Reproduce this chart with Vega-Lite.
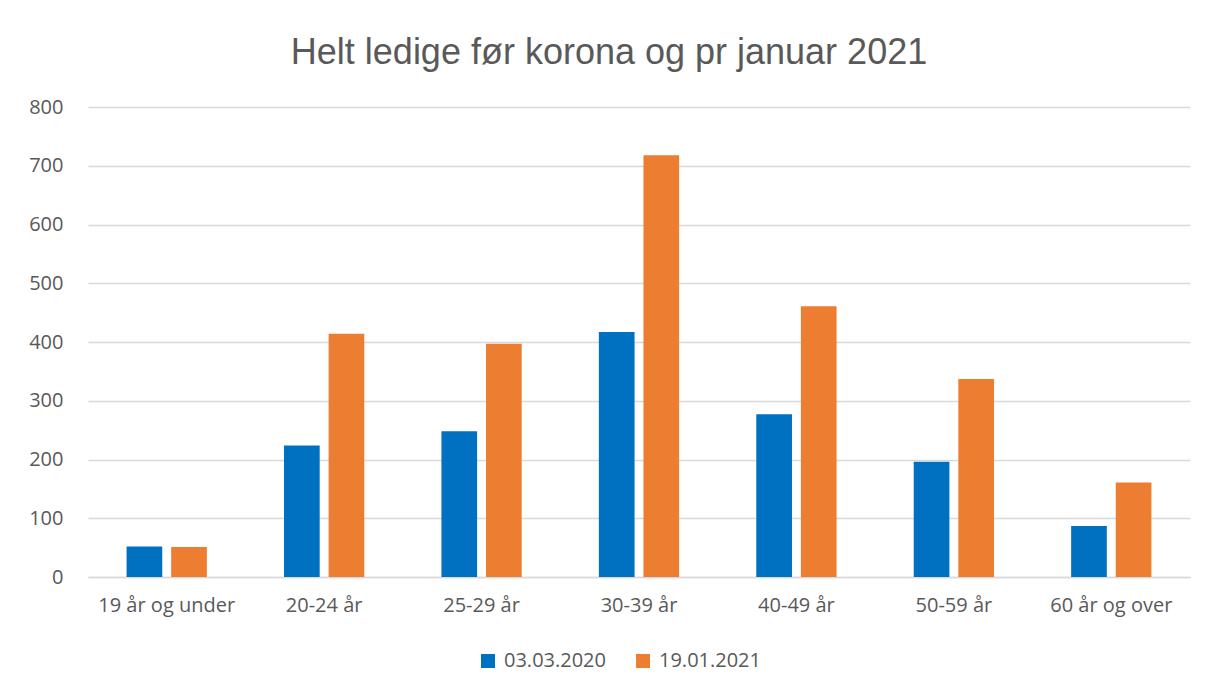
{
  "$schema": "https://vega.github.io/schema/vega-lite/v6.json",
  "width": 1102,
  "height": 470,
  "autosize": {"type": "none"},
  "padding": {"left": 88, "top": 107, "right": 15, "bottom": 113},
  "background": "white",
  "title": {
    "text": "Helt ledige før korona og pr januar 2021",
    "font": "Liberation Sans",
    "fontSize": 36,
    "fontWeight": "normal",
    "color": "#595959",
    "anchor": "middle",
    "dx": -30,
    "baseline": "alphabetic",
    "offset": -3
  },
  "data": {
    "values": [
      {"gruppe": "19 år og under", "dato": "03.03.2020", "antall": 52},
      {"gruppe": "19 år og under", "dato": "19.01.2021", "antall": 51},
      {"gruppe": "20-24 år", "dato": "03.03.2020", "antall": 224},
      {"gruppe": "20-24 år", "dato": "19.01.2021", "antall": 414},
      {"gruppe": "25-29 år", "dato": "03.03.2020", "antall": 248},
      {"gruppe": "25-29 år", "dato": "19.01.2021", "antall": 397},
      {"gruppe": "30-39 år", "dato": "03.03.2020", "antall": 417},
      {"gruppe": "30-39 år", "dato": "19.01.2021", "antall": 718},
      {"gruppe": "40-49 år", "dato": "03.03.2020", "antall": 277},
      {"gruppe": "40-49 år", "dato": "19.01.2021", "antall": 461},
      {"gruppe": "50-59 år", "dato": "03.03.2020", "antall": 196},
      {"gruppe": "50-59 år", "dato": "19.01.2021", "antall": 337},
      {"gruppe": "60 år og over", "dato": "03.03.2020", "antall": 87},
      {"gruppe": "60 år og over", "dato": "19.01.2021", "antall": 161}
    ]
  },
  "mark": {"type": "bar"},
  "encoding": {
    "x": {
      "field": "gruppe",
      "type": "nominal",
      "sort": null,
      "scale": {"paddingInner": 0.49, "paddingOuter": 0.245},
      "axis": {
        "title": null,
        "labelAngle": 0,
        "labelFont": "Open Sans",
        "labelFontSize": 20,
        "labelColor": "#595959",
        "labelPadding": 18,
        "ticks": false,
        "domainColor": "#d9d9d9",
        "domainWidth": 1.5,
        "grid": false
      }
    },
    "xOffset": {
      "field": "dato",
      "type": "nominal",
      "scale": {"paddingInner": 0.2, "paddingOuter": 0}
    },
    "y": {
      "field": "antall",
      "type": "quantitative",
      "scale": {"domain": [0, 800]},
      "axis": {
        "title": null,
        "values": [0, 100, 200, 300, 400, 500, 600, 700, 800],
        "labelFont": "Open Sans",
        "labelFontSize": 20,
        "labelColor": "#595959",
        "labelPadding": 25,
        "ticks": false,
        "domain": false,
        "gridColor": "#d9d9d9",
        "gridWidth": 1.5
      }
    },
    "color": {
      "field": "dato",
      "type": "nominal",
      "scale": {"domain": ["03.03.2020", "19.01.2021"], "range": ["#0070C0", "#ED7D31"]},
      "legend": {
        "title": null,
        "orient": "none",
        "direction": "horizontal",
        "legendX": 390,
        "legendY": 544,
        "symbolType": "square",
        "symbolSize": 196,
        "symbolStrokeWidth": 0,
        "symbolOpacity": 1,
        "labelFont": "Open Sans",
        "labelFontSize": 20,
        "labelColor": "#595959",
        "labelOffset": 6,
        "columnPadding": 27
      }
    }
  },
  "config": {
    "view": {"stroke": null}
  }
}
